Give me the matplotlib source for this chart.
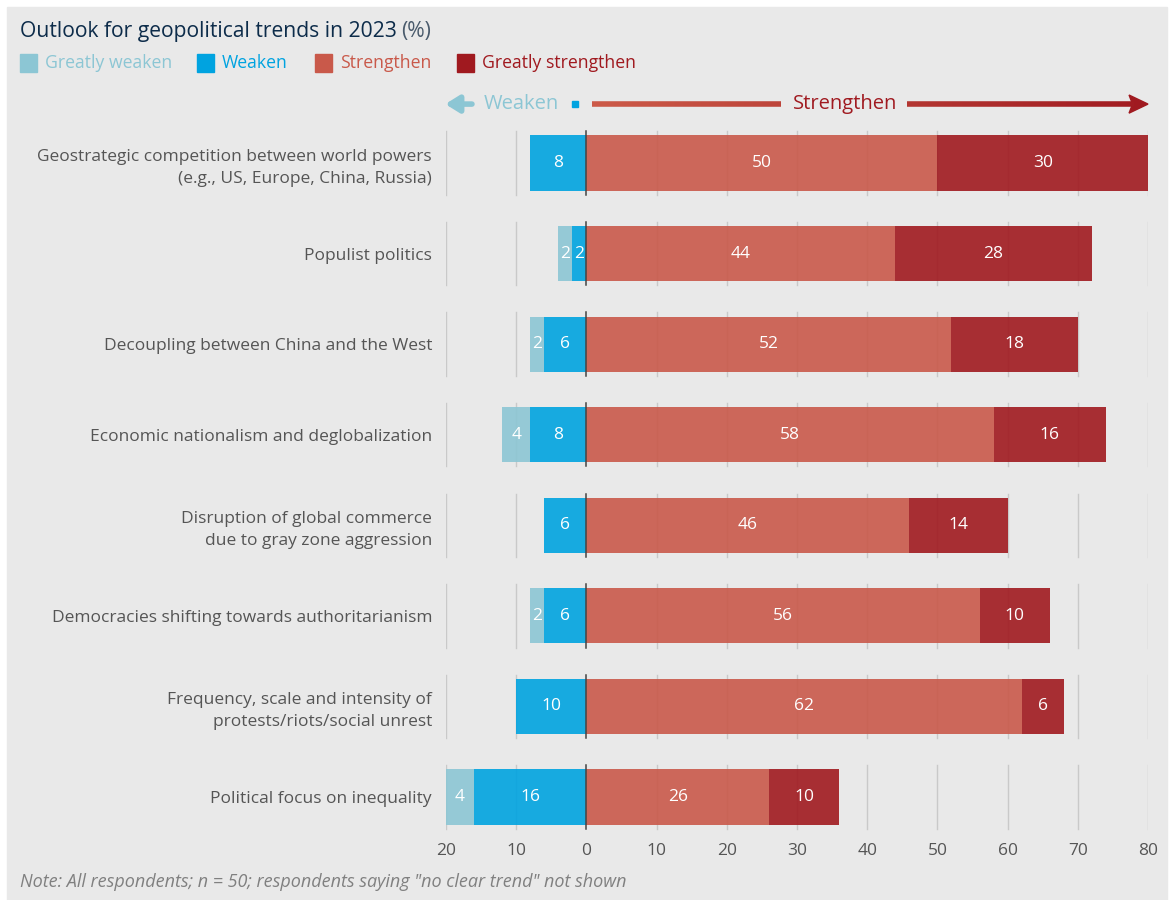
import numpy as np
import matplotlib
matplotlib.use('Agg')
import matplotlib.pyplot as plt
from matplotlib.patches import Rectangle, Polygon
from matplotlib.collections import LineCollection
from matplotlib.colors import to_rgb

plt.rcParams['font.family'] = ['Open Sans', 'DejaVu Sans']

# データ
categories = [
    'Geostrategic competition between world powers\n(e.g., US, Europe, China, Russia)',
    'Populist politics',
    'Decoupling between China and the West',
    'Economic nationalism and deglobalization',
    'Disruption of global commerce\ndue to gray zone aggression',
    'Democracies shifting towards authoritarianism',
    'Frequency, scale and intensity of\nprotests/riots/social unrest',
    'Political focus on inequality',
]
greatly_weaken = [0, 2, 2, 4, 0, 2, 0, 4]
weaken = [8, 2, 6, 8, 6, 6, 10, 16]
strengthen = [50, 44, 52, 58, 46, 56, 62, 26]
greatly_strengthen = [30, 28, 18, 16, 14, 10, 6, 10]

series_names = ['Greatly weaken', 'Weaken', 'Strengthen', 'Greatly strengthen']
colors = ['#8CC6D4', '#00A3E0', '#C9594A', '#A0191F']
text_colors = ['#8CC6D4', '#00A3E0', '#C9594A', '#A0191F']

xticks = [-20, -10, 0, 10, 20, 30, 40, 50, 60, 70, 80]
xtick_labels = ['20', '10', '0', '10', '20', '30', '40', '50', '60', '70', '80']

W, H = 1175, 900
fig = plt.figure(figsize=(W / 100, H / 100), dpi=100)
fig.patch.set_facecolor('white')
# 背景パネル
fig.patches.append(Rectangle((7 / W, 0), (1167 - 7) / W, (H - 7) / H,
                             transform=fig.transFigure, color='#E9E9E9', zorder=-5))

ax = fig.add_axes([446 / W, (H - 835) / H, 702 / W, 710 / H])
ax.set_facecolor('none')
ax.set_xlim(-20, 80)
ax.set_ylim(7.42, -0.42)
for s in ax.spines.values():
    s.set_visible(False)

y = np.arange(len(categories))
bar_h = 0.61

# 行ごとのグリッド線
for yi in y:
    for t in xticks:
        if t == 0:
            continue
        ax.plot([t, t], [yi - 0.35, yi + 0.35], color='#C9C9C9', lw=1, zorder=1)

gw = np.array(greatly_weaken)
wk = np.array(weaken)
st = np.array(strengthen)
gs = np.array(greatly_strengthen)

segments = [
    (-(wk + gw), gw),
    (-wk, wk),
    (np.zeros_like(st), st),
    (st, gs),
]
for (left, width), c in zip(segments, colors):
    ax.barh(y, width, left=left, height=bar_h, color=c, alpha=0.9, zorder=2, linewidth=0)
    for yi, l, w in zip(y, left, width):
        if w > 0:
            ax.text(l + w / 2, yi, str(w), ha='center', va='center', color='white',
                    fontsize=12.5, zorder=4)

# ゼロ線
for yi in y:
    ax.plot([0, 0], [yi - 0.35, yi + 0.35], color='#444444', lw=1.1, zorder=3)

ax.set_xticks(xticks)
ax.set_xticklabels(xtick_labels, fontsize=12.5, color='#555555')
ax.set_yticks(y)
ax.set_yticklabels(categories, fontsize=12.5, color='#555555')
for lbl in ax.get_yticklabels():
    lbl.set_linespacing(1.5)
ax.tick_params(axis='both', length=0)
ax.tick_params(axis='x', pad=6)
ax.tick_params(axis='y', pad=10)

# 方向矢印
ya = -0.651
ax.annotate('', xy=(-20.1, ya), xytext=(-16.3, ya),
            arrowprops=dict(arrowstyle='-|>,head_length=0.8,head_width=0.5',
                            color='#8CC6D4', lw=4, shrinkA=0, shrinkB=0),
            annotation_clip=False)
ax.text(-14.6, ya, 'Weaken', ha='left', va='center', fontsize=14.5, color='#8CC6D4',
        clip_on=False)
ax.add_patch(Rectangle((-2.1, ya - 0.035), 0.85, 0.07, color='#00A3E0', clip_on=False))

c0 = np.array(to_rgb('#CC5A48'))
c1 = np.array(to_rgb('#A01A20'))
xs = np.linspace(0.85, 78.0, 400)
segs, cols = [], []
for a, b in zip(xs[:-1], xs[1:]):
    m = (a + b) / 2
    if 27.8 < m < 45.7:
        continue
    f = (m - 0.85) / (80 - 0.85)
    segs.append([(a, ya), (b, ya)])
    cols.append(c0 + (c1 - c0) * f)
lc = LineCollection(segs, colors=cols, linewidths=4, capstyle='butt', clip_on=False)
ax.add_collection(lc)
ax.add_patch(Polygon([(80, ya), (77.3, ya - 0.1), (77.8, ya), (77.3, ya + 0.1)],
                     closed=True, color='#A01A20', clip_on=False))
ax.text(36.9, ya, 'Strengthen', ha='center', va='center', fontsize=14.5,
        color='#A01A20', clip_on=False)

# タイトル
t1 = fig.text(20 / W, 1 - 31 / H, 'Outlook for geopolitical trends in 2023', fontsize=15.2,
              color='#0D2C4A', va='center', ha='left', fontweight='medium')
fig.canvas.draw()
bb = t1.get_window_extent()
fig.text(bb.x1 / W + 4 / W, 1 - 31 / H, '(%)', fontsize=15.2, color='#4A5B6C',
         va='center', ha='left')

# 凡例
leg_x = [20, 197, 315, 457]
for lx, name, c, tc in zip(leg_x, series_names, colors, text_colors):
    fig.patches.append(Rectangle((lx / W, 1 - 72 / H), 17 / W, 18 / H,
                                 transform=fig.transFigure, color=c, zorder=2))
    fig.text((lx + 25) / W, 1 - 63 / H, name, fontsize=12.7, color=tc,
             va='center', ha='left')

fig.text(20 / W, 1 - 882 / H,
         'Note: All respondents; n = 50; respondents saying "no clear trend" not shown',
         fontsize=13, color='#808080', style='italic', va='center', ha='left')

fig.savefig('out.png', dpi=100, facecolor=fig.get_facecolor())
